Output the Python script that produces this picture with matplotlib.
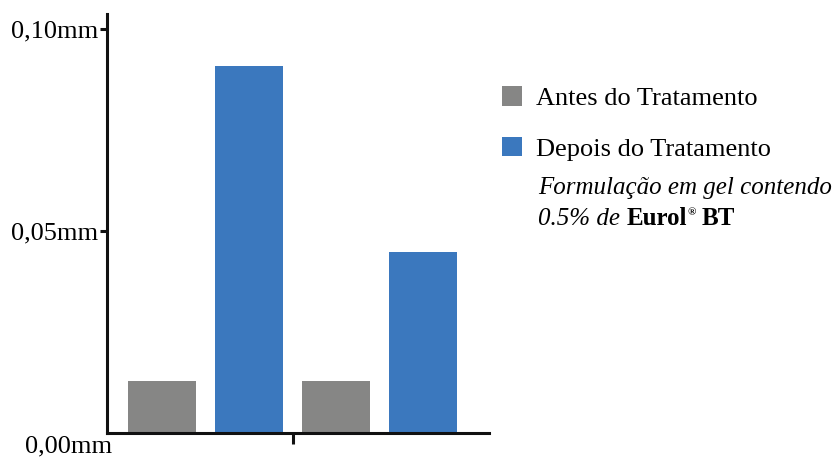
import matplotlib
matplotlib.use("Agg")
import matplotlib.pyplot as plt
from matplotlib.patches import Patch
from matplotlib.transforms import blended_transform_factory

# valores (mm)
grupos = ["Antes do Tratamento", "Depois do Tratamento"]
antes = [0.013, 0.013]
depois = [0.091, 0.045]
yticks = [0.05, 0.10]
ytick_labels = ["0,05mm", "0,10mm"]

cinza = "#868685"
azul = "#3b78be"

plt.rcParams['font.family'] = ['Liberation Serif', 'DejaVu Serif']

fig = plt.figure(figsize=(8.38, 4.59), dpi=100)
ax = fig.add_axes([0.1271, 0.0556, 0.4564, 0.9139])

# barras: pares antes/depois
pos_antes = [0, 2]
pos_depois = [1, 3]
ax.bar(pos_antes, antes, width=0.79, color=cinza)
ax.bar(pos_depois, depois, width=0.79, color=azul)

ax.set_xlim(-0.64, 3.76)
ax.set_ylim(0, 0.1038)

for s in ["top", "right"]:
    ax.spines[s].set_visible(False)
for s in ["left", "bottom"]:
    ax.spines[s].set_linewidth(2.2)
    ax.spines[s].set_color("#111111")

ax.set_yticks(yticks)
ax.set_yticklabels(ytick_labels, fontsize=19)
ax.tick_params(axis="y", length=5, width=2.2, pad=1, color="#111111")
ax.set_xticks([1.5])
ax.set_xticklabels([""])
ax.tick_params(axis="x", length=8, width=2.2, color="#111111")

# rótulo do zero abaixo do eixo
tr = blended_transform_factory(ax.transAxes, ax.transData)
ax.annotate("0,00mm", xy=(0, 0), xycoords=tr, xytext=(4, -9),
            textcoords="offset points", ha="right", va="center",
            fontsize=19, annotation_clip=False)

# legenda
handles = [Patch(facecolor=cinza), Patch(facecolor=azul)]
fig.legend(handles, grupos, loc="upper left", bbox_to_anchor=(0.5985, 0.812),
           frameon=False, fontsize=19, handlelength=0.76, handleheight=0.76,
           handletextpad=0.55, labelspacing=1.0, borderpad=0, borderaxespad=0)

fig.text(0.642, 0.577, "Formulação em gel contendo", fontsize=18,
         style="italic", va="baseline")
t1 = fig.text(0.642, 0.510, "0.5% de ", fontsize=18, style="italic",
              va="baseline")
t2 = fig.text(0, 0, "Eurol", fontsize=18, weight="bold", va="baseline")
fig.canvas.draw()
r = fig.canvas.get_renderer()
bb1 = t1.get_window_extent(r)
t2.set_position((bb1.x1 / fig.bbox.width, 0.510))
bb2 = t2.get_window_extent(r)
fig.text(bb2.x1 / fig.bbox.width + 0.001, 0.532, "®", fontsize=8,
         weight="bold", va="baseline")
fig.text(bb2.x1 / fig.bbox.width + 0.018, 0.510, "BT", fontsize=18,
         weight="bold", va="baseline")

fig.savefig("out.png", dpi=100)
